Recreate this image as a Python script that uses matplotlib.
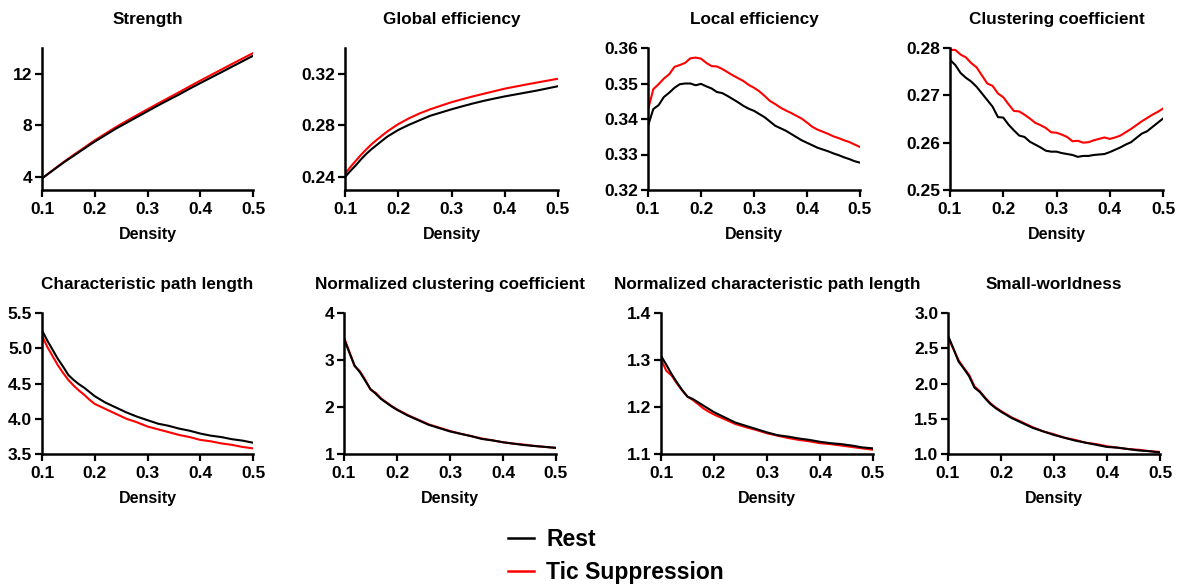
import matplotlib
matplotlib.use("Agg")
import matplotlib.pyplot as plt
from matplotlib.lines import Line2D
from matplotlib.ticker import FormatStrFormatter

plt.rcParams['font.family'] = ['Liberation Sans', 'DejaVu Sans']
plt.rcParams['font.weight'] = 'bold'

# ---------------- data ----------------
density_mix = [0.10, 0.11, 0.12, 0.13, 0.14, 0.15, 0.16, 0.17, 0.18, 0.19, 0.20,
               0.22, 0.24, 0.26, 0.28, 0.30, 0.32, 0.34, 0.36, 0.38, 0.40,
               0.42, 0.44, 0.46, 0.48, 0.50]
density_fine = [round(0.10 + 0.01 * i, 2) for i in range(41)]

strength_rest = [3.9, 4.2, 4.5, 4.8, 5.1, 5.38, 5.65, 5.93, 6.2, 6.48, 6.75,
                 7.25, 7.75, 8.2, 8.65, 9.1, 9.55, 9.98, 10.4, 10.85, 11.28,
                 11.7, 12.12, 12.55, 12.97, 13.4]
strength_tic = [3.9, 4.21, 4.52, 4.83, 5.14, 5.43, 5.72, 6.0, 6.28, 6.57, 6.85,
                7.36, 7.87, 8.34, 8.8, 9.25, 9.7, 10.14, 10.58, 11.03, 11.47,
                11.9, 12.33, 12.76, 13.18, 13.6]

geff_rest = [0.240, 0.2447, 0.249, 0.2537, 0.258, 0.2617, 0.265, 0.2683, 0.2715, 0.274, 0.2765,
             0.2805, 0.284, 0.2875, 0.290, 0.2925, 0.2948, 0.297, 0.299, 0.3008, 0.3025,
             0.304, 0.3055, 0.307, 0.3087, 0.3104]
geff_tic = [0.2425, 0.2477, 0.2525, 0.2572, 0.2615, 0.2655, 0.269, 0.2723, 0.2755, 0.2783, 0.281,
            0.2855, 0.2893, 0.2925, 0.2953, 0.298, 0.3003, 0.3025, 0.3045, 0.3065, 0.3085,
            0.3101, 0.3117, 0.3132, 0.3147, 0.3162]

leff_rest = [0.3381, 0.3428, 0.3439, 0.3462, 0.3474, 0.3488, 0.3498, 0.3500, 0.3500, 0.3495,
             0.3499, 0.3492, 0.3486, 0.3476, 0.3473, 0.3465, 0.3456, 0.3447, 0.3437, 0.3429,
             0.3423, 0.3414, 0.3405, 0.3393, 0.3381, 0.3374, 0.3367, 0.3358, 0.3349, 0.3340,
             0.3333, 0.3326, 0.3319, 0.3314, 0.3309, 0.3303, 0.3298, 0.3292, 0.3287, 0.3281,
             0.3277]
leff_tic = [0.3426, 0.3484, 0.3498, 0.3514, 0.3526, 0.3547, 0.3552, 0.3558, 0.3571, 0.3573,
            0.3570, 0.3558, 0.3549, 0.3548, 0.3541, 0.3532, 0.3523, 0.3515, 0.3507, 0.3496,
            0.3488, 0.3478, 0.3465, 0.3451, 0.3442, 0.3432, 0.3424, 0.3417, 0.3409, 0.3401,
            0.3390, 0.3378, 0.3370, 0.3364, 0.3358, 0.3351, 0.3346, 0.3340, 0.3335, 0.3328,
            0.3321]

clust_rest = [0.2775, 0.2764, 0.2747, 0.2737, 0.2729, 0.2718, 0.2704, 0.2690, 0.2676, 0.2654,
              0.2653, 0.2638, 0.2626, 0.2615, 0.2612, 0.2602, 0.2596, 0.2590, 0.2583, 0.2581,
              0.2581, 0.2578, 0.2576, 0.2574, 0.2570, 0.2572, 0.2572, 0.2574, 0.2575, 0.2576,
              0.2580, 0.2585, 0.2590, 0.2596, 0.2601, 0.2610, 0.2619, 0.2624, 0.2633, 0.2642,
              0.2651]
clust_tic = [0.2796, 0.2796, 0.2786, 0.2780, 0.2768, 0.2759, 0.2742, 0.2725, 0.2720, 0.2704,
             0.2696, 0.2681, 0.2667, 0.2666, 0.2659, 0.2651, 0.2642, 0.2637, 0.2631, 0.2622,
             0.2621, 0.2617, 0.2612, 0.2603, 0.2604, 0.2600, 0.2601, 0.2605, 0.2608, 0.2611,
             0.2608, 0.2611, 0.2615, 0.2622, 0.2629, 0.2637, 0.2645, 0.2652, 0.2659, 0.2665,
             0.2672]

cpl_rest = [5.254, 5.11, 4.98, 4.85, 4.74, 4.62, 4.55, 4.49, 4.44, 4.38, 4.32,
            4.23, 4.16, 4.09, 4.03, 3.98, 3.93, 3.90, 3.86, 3.83, 3.79,
            3.76, 3.74, 3.71, 3.69, 3.66]
cpl_tic = [5.18, 5.02, 4.89, 4.76, 4.65, 4.55, 4.47, 4.40, 4.34, 4.27, 4.21,
           4.14, 4.07, 4.00, 3.95, 3.89, 3.85, 3.81, 3.77, 3.74, 3.70,
           3.68, 3.65, 3.63, 3.60, 3.58]

nclust_rest = [3.45, 3.16, 2.88, 2.74, 2.56, 2.38, 2.28, 2.17, 2.09, 2.01, 1.94,
               1.82, 1.72, 1.62, 1.55, 1.48, 1.43, 1.38, 1.32, 1.29, 1.25,
               1.22, 1.19, 1.17, 1.15, 1.13]
nclust_tic = [3.48, 3.18, 2.87, 2.76, 2.58, 2.37, 2.30, 2.18, 2.10, 2.02, 1.95,
              1.83, 1.73, 1.63, 1.56, 1.49, 1.43, 1.38, 1.33, 1.29, 1.25,
              1.22, 1.20, 1.17, 1.15, 1.13]

ncpl_rest = [1.309, 1.29, 1.27, 1.2525, 1.236, 1.222, 1.217, 1.210, 1.203, 1.196, 1.189,
             1.178, 1.167, 1.160, 1.153, 1.146, 1.140, 1.137, 1.133, 1.130, 1.126,
             1.123, 1.121, 1.118, 1.114, 1.112]
ncpl_tic = [1.302, 1.277, 1.267, 1.250, 1.235, 1.222, 1.215, 1.206, 1.197, 1.190, 1.184,
            1.174, 1.164, 1.157, 1.151, 1.144, 1.139, 1.134, 1.130, 1.127, 1.123,
            1.121, 1.118, 1.115, 1.112, 1.109]

sw_rest = [2.68, 2.50, 2.31, 2.21, 2.10, 1.94, 1.88, 1.79, 1.71, 1.65, 1.60,
           1.51, 1.44, 1.37, 1.32, 1.27, 1.23, 1.19, 1.16, 1.13, 1.10,
           1.09, 1.07, 1.05, 1.04, 1.02]
sw_tic = [2.66, 2.49, 2.33, 2.22, 2.12, 1.96, 1.89, 1.80, 1.72, 1.66, 1.61,
          1.52, 1.45, 1.38, 1.32, 1.28, 1.23, 1.20, 1.16, 1.14, 1.11,
          1.09, 1.07, 1.06, 1.04, 1.03]

titles = ["Strength", "Global efficiency", "Local efficiency", "Clustering coefficient",
          "Characteristic path length", "Normalized clustering coefficient",
          "Normalized characteristic path length", "Small-worldness"]
x_ticks = [0.1, 0.2, 0.3, 0.4, 0.5]
legend_labels = ["Rest", "Tic Suppression"]

panels = [
    (density_mix, strength_rest, strength_tic, (3, 14), [4, 8, 12], "%d"),
    (density_mix, geff_rest, geff_tic, (0.23, 0.34), [0.24, 0.28, 0.32], "%.2f"),
    (density_fine, leff_rest, leff_tic, (0.32, 0.36), [0.32, 0.33, 0.34, 0.35, 0.36], "%.2f"),
    (density_fine, clust_rest, clust_tic, (0.25, 0.28), [0.25, 0.26, 0.27, 0.28], "%.2f"),
    (density_mix, cpl_rest, cpl_tic, (3.5, 5.5), [3.5, 4.0, 4.5, 5.0, 5.5], "%.1f"),
    (density_mix, nclust_rest, nclust_tic, (1, 4), [1, 2, 3, 4], "%d"),
    (density_mix, ncpl_rest, ncpl_tic, (1.1, 1.4), [1.1, 1.2, 1.3, 1.4], "%.1f"),
    (density_mix, sw_rest, sw_tic, (1.0, 3.0), [1.0, 1.5, 2.0, 2.5, 3.0], "%.1f"),
]

# ---------------- layout ----------------
W, H = 1187, 585
fig = plt.figure(figsize=(W / 100, H / 100), dpi=100)

boxes_px = [
    (42, 253, 48, 190), (345, 558, 48, 190), (648, 860, 48, 190), (950, 1163, 48, 190),
    (42, 253, 313, 454), (344, 556, 313, 454), (661, 873, 313, 454), (948, 1160, 313, 454),
]

for (l, r, t, b), title, (xd, yr, yt, ylim, yticks, fmt) in zip(boxes_px, titles, panels):
    ax = fig.add_axes([l / W, 1 - b / H, (r - l) / W, (b - t) / H])
    ax.plot(xd, yr, color="black", lw=1.5, zorder=3)
    ax.plot(xd, yt, color="#ff0000", lw=1.5, zorder=2)
    ax.set_xlim(0.1, 0.5)
    ax.set_ylim(*ylim)
    ax.set_xticks(x_ticks)
    ax.set_yticks(yticks)
    ax.yaxis.set_major_formatter(FormatStrFormatter(fmt))
    ax.xaxis.set_major_formatter(FormatStrFormatter("%.1f"))
    for s in ["top", "right"]:
        ax.spines[s].set_visible(False)
    for s in ["left", "bottom"]:
        ax.spines[s].set_linewidth(1.8)
    ax.tick_params(direction="out", length=5, width=1.6, labelsize=12.5)
    ax.tick_params(axis="x", pad=4)
    ax.tick_params(axis="y", pad=2)
    for lab in ax.get_xticklabels() + ax.get_yticklabels():
        lab.set_fontweight("bold")
    ax.set_title(title, fontsize=12.3, fontweight="bold", pad=17)
    ax.set_xlabel("Density", fontsize=11.5, fontweight="bold", labelpad=7)

handles = [Line2D([], [], color="black", lw=1.8), Line2D([], [], color="#ff0000", lw=1.8)]
fig.legend(handles, legend_labels, loc="center", bbox_to_anchor=(0.519, 0.05),
           frameon=False, prop={"size": 16.5, "weight": "bold"},
           handlelength=1.1, handletextpad=0.55, labelspacing=0.42)

fig.savefig("out.png", dpi=100)
